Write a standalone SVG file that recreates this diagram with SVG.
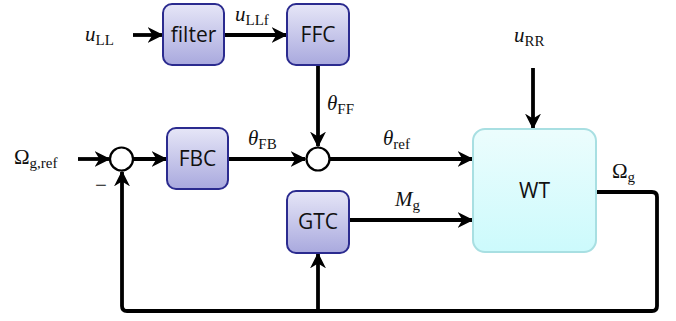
<svg xmlns="http://www.w3.org/2000/svg" width="676" height="321" viewBox="0 0 676 321">
<style>
.blk{stroke:#2b2b8f;stroke-width:2;fill:url(#gb)}
.wt{stroke:#a8dfe2;stroke-width:2;fill:url(#gc)}
.btx{font-family:"Open Sans","DejaVu Sans",sans-serif;font-size:21px;fill:#111;text-anchor:middle}
.m{font-family:"Liberation Serif","DejaVu Serif",serif;font-size:21px;fill:#111}
.v{font-style:italic}
.s{font-size:15px}
.ln{fill:none;stroke:#000;stroke-width:3.8;stroke-linejoin:round}
.sum{fill:#fff;stroke:#000;stroke-width:2.2}
</style>
<defs>
<linearGradient id="gb" x1="0" y1="0" x2="0" y2="1"><stop offset="0" stop-color="#e6e6f7"/><stop offset="1" stop-color="#a9a9de"/></linearGradient>
<linearGradient id="gc" x1="0" y1="0" x2="0" y2="1"><stop offset="0" stop-color="#ecfdfd"/><stop offset="1" stop-color="#ccfafc"/></linearGradient>
<marker id="ar" viewBox="0 0 10 10" refX="9" refY="5" markerWidth="4.2" markerHeight="4.2" orient="auto" markerUnits="strokeWidth"><path d="M0,0 L10,5 L0,10 L3,5 Z" fill="#000"/></marker>
</defs>
<g id="connectors">
<line class="ln" x1="133" y1="35" x2="162" y2="35" marker-end="url(#ar)"/>
<line class="ln" x1="224" y1="35" x2="286" y2="35" marker-end="url(#ar)"/>
<line class="ln" x1="318" y1="65" x2="318" y2="146" marker-end="url(#ar)"/>
<line class="ln" x1="78" y1="159" x2="109" y2="159" marker-end="url(#ar)"/>
<line class="ln" x1="133" y1="159" x2="166" y2="159" marker-end="url(#ar)"/>
<line class="ln" x1="228" y1="159" x2="305" y2="159" marker-end="url(#ar)"/>
<line class="ln" x1="330" y1="159" x2="472" y2="159" marker-end="url(#ar)"/>
<line class="ln" x1="349" y1="220" x2="472" y2="220" marker-end="url(#ar)"/>
<line class="ln" x1="533" y1="68" x2="533" y2="128" marker-end="url(#ar)"/>
<path class="ln" d="M596,192 H652 Q657,192 657,197 V306 Q657,311 652,311 H127 Q122,311 122,306 V172" marker-end="url(#ar)"/>
<path class="ln" d="M318,311 V254" marker-end="url(#ar)"/>
</g>
<g id="filter"><rect class="blk" x="163" y="4" width="61" height="61" rx="9"/><text class="btx" x="193.5" y="42">filter</text></g>
<g id="FFC"><rect class="blk" x="287" y="4" width="62" height="61" rx="9"/><text class="btx" x="318" y="42">FFC</text></g>
<g id="FBC"><rect class="blk" x="167" y="128" width="61" height="61" rx="9"/><text class="btx" x="197.5" y="166">FBC</text></g>
<g id="GTC"><rect class="blk" x="287" y="191" width="62" height="62" rx="9"/><text class="btx" x="318" y="229">GTC</text></g>
<g id="WT"><rect class="wt" x="473" y="129" width="123" height="123" rx="12"/><text class="btx" x="534.5" y="198">WT</text></g>
<g id="sum1"><circle class="sum" cx="121.5" cy="159" r="11.5"/></g>
<g id="sum2"><circle class="sum" cx="318" cy="159" r="11.5"/></g>
<g id="labels">
<text class="m" x="85" y="41"><tspan class="v">u</tspan><tspan class="s" dy="4">LL</tspan></text>
<text class="m" x="235" y="21"><tspan class="v">u</tspan><tspan class="s" dy="4">LLf</tspan></text>
<text class="m" x="327" y="110"><tspan class="v">θ</tspan><tspan class="s" dy="4">FF</tspan></text>
<text class="m" x="14" y="164">Ω<tspan class="s" dy="4">g,ref</tspan></text>
<text class="m" x="95" y="192">−</text>
<text class="m" x="248" y="145"><tspan class="v">θ</tspan><tspan class="s" dy="4">FB</tspan></text>
<text class="m" x="383" y="145"><tspan class="v">θ</tspan><tspan class="s" dy="4">ref</tspan></text>
<text class="m" x="395" y="206"><tspan class="v">M</tspan><tspan class="s" dy="4">g</tspan></text>
<text class="m" x="514" y="42"><tspan class="v">u</tspan><tspan class="s" dy="4">RR</tspan></text>
<text class="m" x="612" y="178">Ω<tspan class="s" dy="4">g</tspan></text>
</g>
</svg>
